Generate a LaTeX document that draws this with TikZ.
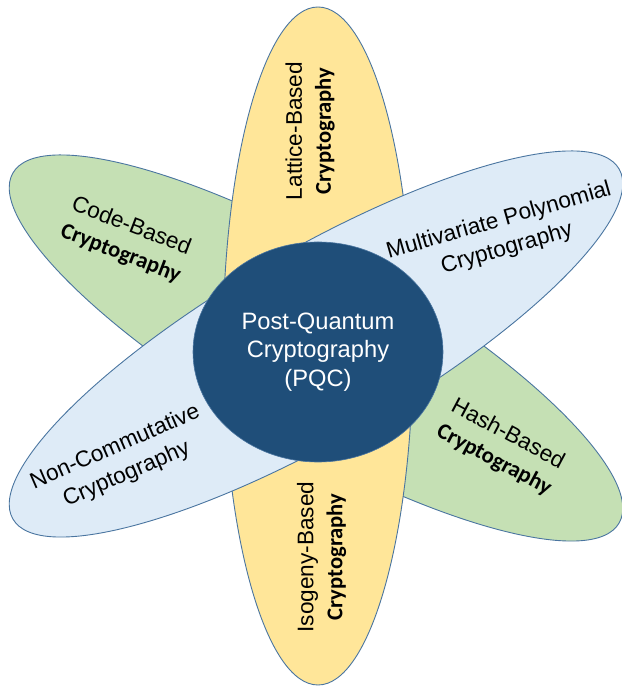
\documentclass[tikz,border=0pt]{standalone}
\usepackage{fontspec}
\setmainfont{Liberation Sans}
\newfontfamily\calib{Carlito}
\usetikzlibrary{shapes.geometric}
\definecolor{petalgreen}{HTML}{C5E0B4}
\definecolor{petalyellow}{HTML}{FFE699}
\definecolor{petalblue}{HTML}{DEEBF7}
\definecolor{coreblue}{HTML}{1F4E79}
\definecolor{edgeblue}{HTML}{4A75A0}
\tikzset{
  petal/.style={ellipse, draw=edgeblue, line width=0.9pt, inner sep=0pt,
    minimum width=700pt, minimum height=188pt},
  vpetal/.style={ellipse, draw=edgeblue, line width=0.9pt, inner sep=0pt,
    minimum width=190pt, minimum height=678pt},
  core/.style={ellipse, fill=coreblue, draw=edgeblue, line width=0.6pt, inner sep=0pt,
    minimum width=250pt, minimum height=220pt},
  label/.style={align=center, inner sep=0pt, font=\fontsize{22.6}{29}\selectfont},
  coretext/.style={align=center, inner sep=0pt, text=white, font=\fontsize{23.7}{28.5}\selectfont}
}
\newcommand{\boldcrypto}{{\calib\bfseries Cryptography}}
\begin{document}
\begin{tikzpicture}[x=1pt,y=1pt]
\useasboundingbox (0,0) rectangle (621,687);
% petals (order: green, yellow, blue)
\node[petal, fill=petalgreen, rotate=-30] (greenpetal) at (316,339) {};
\node[vpetal, fill=petalyellow] (yellowpetal) at (318,341) {};
\node[petal, fill=petalblue, rotate=30] (bluepetal) at (316,343) {};
% core
\node[core] (pqc) at (318,335) {};
\node[coretext] (pqctext) at (pqc.center) {Post-Quantum\\Cryptography\\(PQC)};
% labels
\node[label, rotate=90] (lattice) at (310,556) {Lattice-Based\\\boldcrypto};
\node[label, rotate=90] (isogeny) at (321.5,130) {Isogeny-Based\\\boldcrypto};
\node[label, rotate=-21] (code) at (126,447) {Code-Based\\\boldcrypto};
\node[label, rotate=-28] (hash) at (501,240) {Hash-Based\\\boldcrypto};
\node[label, rotate=23.5] (noncomm) at (121,226) {Non-Commutative\\Cryptography};
\node[label, rotate=16] (multi) at (503,452) {Multivariate Polynomial\\Cryptography};
\end{tikzpicture}
\end{document}
